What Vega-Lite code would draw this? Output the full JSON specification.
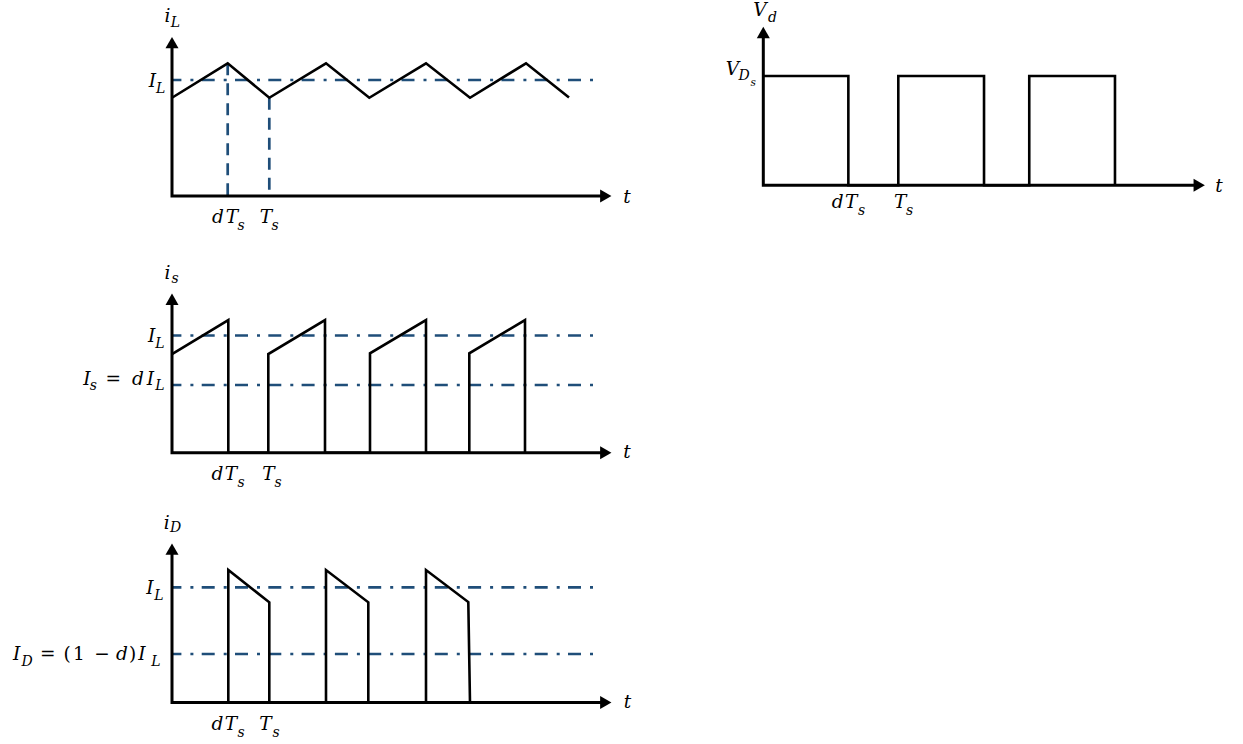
{
"$schema": "https://vega.github.io/schema/vega-lite/v6.json",
"padding": 0,
"background": "white",
"config": {"view": {"stroke": null}, "text": {"font": "DejaVu Serif", "color": "black", "align": "center", "baseline": "alphabetic"}},
"datasets": {
"iL": [
{"k":"axis","i":0,"t":0,"v":1.323},{"k":"axis","i":1,"t":0,"v":0},{"k":"axis","i":2,"t":4.338,"v":0},
{"k":"arrow","dir":"up","t":0,"v":1.323},{"k":"arrow","dir":"right","t":4.338,"v":0},
{"k":"wave","i":0,"t":0,"v":0.847},{"k":"wave","i":1,"t":0.557,"v":1.144},{"k":"wave","i":2,"t":0.973,"v":0.847},{"k":"wave","i":3,"t":1.54,"v":1.144},{"k":"wave","i":4,"t":1.973,"v":0.847},{"k":"wave","i":5,"t":2.54,"v":1.144},{"k":"wave","i":6,"t":2.98,"v":0.847},{"k":"wave","i":7,"t":3.54,"v":1.144},{"k":"wave","i":8,"t":3.97,"v":0.85},
{"k":"dd","t":0,"t2":4.25,"v":1},
{"k":"dash","t":0.557,"v":1.144,"v2":0},{"k":"dash","t":0.973,"v":0.847,"v2":0},
{"k":"main","s":"i","t":-0.045,"v":1.503},{"k":"main","s":"I","t":-0.197,"v":0.937},{"k":"main","s":"d","t":0.46,"v":-0.235},{"k":"main","s":"T","t":0.60,"v":-0.235},{"k":"main","s":"T","t":0.94,"v":-0.235},{"k":"main","s":"t","t":4.55,"v":-0.06},
{"k":"sub","s":"L","t":0.035,"v":1.461},{"k":"sub","s":"L","t":-0.113,"v":0.885},{"k":"sub","s":"s","t":0.69,"v":-0.297},{"k":"sub","s":"s","t":1.03,"v":-0.297}
],
"is": [
{"k":"axis","i":0,"t":0,"v":1.309},{"k":"axis","i":1,"t":0,"v":0},{"k":"axis","i":2,"t":4.338,"v":0},
{"k":"arrow","dir":"up","t":0,"v":1.309},{"k":"arrow","dir":"right","t":4.338,"v":0},
{"k":"wave","i":0,"t":0,"v":0.842},{"k":"wave","i":1,"t":0.563,"v":1.132},{"k":"wave","i":2,"t":0.563,"v":0},{"k":"wave","i":3,"t":0.963,"v":0},{"k":"wave","i":4,"t":0.963,"v":0.842},{"k":"wave","i":5,"t":1.53,"v":1.132},{"k":"wave","i":6,"t":1.53,"v":0},{"k":"wave","i":7,"t":1.98,"v":0},{"k":"wave","i":8,"t":1.98,"v":0.848},{"k":"wave","i":9,"t":2.54,"v":1.132},{"k":"wave","i":10,"t":2.54,"v":0},{"k":"wave","i":11,"t":2.973,"v":0},{"k":"wave","i":12,"t":2.973,"v":0.848},{"k":"wave","i":13,"t":3.53,"v":1.132},{"k":"wave","i":14,"t":3.53,"v":0},
{"k":"dd","t":0,"t2":4.24,"v":1},{"k":"dd","t":0,"t2":4.24,"v":0.578},
{"k":"main","s":"i","t":-0.045,"v":1.482},{"k":"main","s":"I","t":-0.203,"v":0.945},{"k":"main","s":"I","t":-0.85,"v":0.578},{"k":"main","s":"d","t":-0.34,"v":0.578},{"k":"main","s":"I","t":-0.215,"v":0.578},{"k":"main","s":"d","t":0.455,"v":-0.232},{"k":"main","s":"T","t":0.59,"v":-0.232},{"k":"main","s":"T","t":0.965,"v":-0.232},{"k":"main","s":"t","t":4.55,"v":-0.044},
{"k":"up","s":"=","t":-0.587,"v":0.578},
{"k":"sub","s":"s","t":0.03,"v":1.448},{"k":"sub","s":"L","t":-0.12,"v":0.893},{"k":"sub","s":"s","t":-0.787,"v":0.535},{"k":"sub","s":"L","t":-0.12,"v":0.535},{"k":"sub","s":"s","t":0.69,"v":-0.292},{"k":"sub","s":"s","t":1.06,"v":-0.292}
],
"iD": [
{"k":"axis","i":0,"t":0,"v":1.331},{"k":"axis","i":1,"t":0,"v":0},{"k":"axis","i":2,"t":4.338,"v":0},
{"k":"arrow","dir":"up","t":0,"v":1.331},{"k":"arrow","dir":"right","t":4.338,"v":0},
{"k":"wave","i":0,"t":0.563,"v":0},{"k":"wave","i":1,"t":0.563,"v":1.15},{"k":"wave","i":2,"t":0.973,"v":0.87},{"k":"wave","i":3,"t":0.973,"v":0},{"k":"wave","i":4,"t":1.54,"v":0},{"k":"wave","i":5,"t":1.54,"v":1.15},{"k":"wave","i":6,"t":1.963,"v":0.87},{"k":"wave","i":7,"t":1.963,"v":0},{"k":"wave","i":8,"t":2.54,"v":0},{"k":"wave","i":9,"t":2.54,"v":1.15},{"k":"wave","i":10,"t":2.963,"v":0.872},{"k":"wave","i":11,"t":2.98,"v":0},
{"k":"dd","t":0,"t2":4.24,"v":1},{"k":"dd","t":0,"t2":4.24,"v":0.421},
{"k":"main","s":"i","t":-0.053,"v":1.506},{"k":"main","s":"I","t":-0.22,"v":0.942},{"k":"main","s":"I","t":-1.553,"v":0.369},{"k":"main","s":"d","t":-0.5,"v":0.369},{"k":"main","s":"I","t":-0.30,"v":0.369},{"k":"main","s":"d","t":0.455,"v":-0.239},{"k":"main","s":"T","t":0.59,"v":-0.239},{"k":"main","s":"T","t":0.935,"v":-0.239},{"k":"main","s":"t","t":4.555,"v":-0.048},
{"k":"up","s":"=","t":-1.243,"v":0.369},{"k":"up","s":"(","t":-1.05,"v":0.369},{"k":"up","s":"1","t":-0.93,"v":0.369},{"k":"up","s":"−","t":-0.70,"v":0.369},{"k":"up","s":")","t":-0.395,"v":0.369},
{"k":"sub","s":"D","t":0.035,"v":1.476},{"k":"sub","s":"L","t":-0.13,"v":0.89},{"k":"sub","s":"D","t":-1.45,"v":0.321},{"k":"sub","s":"L","t":-0.16,"v":0.321},{"k":"sub","s":"s","t":0.69,"v":-0.299},{"k":"sub","s":"s","t":1.04,"v":-0.299}
],
"vd": [
{"k":"axis","i":0,"t":0,"v":1.398},{"k":"axis","i":1,"t":0,"v":0},{"k":"axis","i":2,"t":3.229,"v":0},
{"k":"arrow","dir":"up","t":0,"v":1.398},{"k":"arrow","dir":"right","t":3.229,"v":0},
{"k":"wave","i":0,"t":0,"v":1},{"k":"wave","i":1,"t":0.63,"v":1},{"k":"wave","i":2,"t":0.63,"v":0},{"k":"wave","i":3,"t":1.0,"v":0},{"k":"wave","i":4,"t":1.0,"v":1},{"k":"wave","i":5,"t":1.635,"v":1},{"k":"wave","i":6,"t":1.635,"v":0},{"k":"wave","i":7,"t":1.97,"v":0},{"k":"wave","i":8,"t":1.97,"v":1},{"k":"wave","i":9,"t":2.605,"v":1},{"k":"wave","i":10,"t":2.605,"v":0},
{"k":"main","s":"V","t":-0.024,"v":1.548},{"k":"main","s":"V","t":-0.228,"v":1.009},{"k":"main","s":"d","t":0.55,"v":-0.21},{"k":"main","s":"T","t":0.65,"v":-0.21},{"k":"main","s":"T","t":1.013,"v":-0.21},{"k":"main","s":"t","t":3.376,"v":-0.059},
{"k":"sub","s":"d","t":0.068,"v":1.494},{"k":"sub","s":"D","t":-0.143,"v":0.963},{"k":"sub","s":"s","t":0.728,"v":-0.272},{"k":"sub","s":"s","t":1.084,"v":-0.272},
{"k":"subsub","s":"s","t":-0.074,"v":0.909}
]
},
"hconcat": [
{
"vconcat": [
{
"width": 640, "height": 250,
"data": {"name": "iL"},
"encoding": {
"x": {"field": "t", "type": "quantitative", "scale": {"domain": [-1.72, 4.68], "nice": false, "zero": false}, "axis": null},
"y": {"field": "v", "type": "quantitative", "scale": {"domain": [-0.4655, 1.6897], "nice": false, "zero": false}, "axis": null}
},
"layer": [
{"transform": [{"filter": "datum.k === 'dd'"}], "mark": {"type": "rule", "color": "#1f4e79", "strokeWidth": 2.7, "strokeDash": [13, 9, 3, 8.3], "strokeDashOffset": 3.6}, "encoding": {"x2": {"field": "t2"}}},
{"transform": [{"filter": "datum.k === 'dash'"}], "mark": {"type": "rule", "color": "#1f4e79", "strokeWidth": 2.7, "strokeDash": [12, 8]}, "encoding": {"y2": {"field": "v2"}}},
{"transform": [{"filter": "datum.k === 'wave'"}], "mark": {"type": "line", "color": "black", "strokeWidth": 2.6, "strokeJoin": "miter"}, "encoding": {"order": {"field": "i"}}},
{"transform": [{"filter": "datum.k === 'axis'"}], "mark": {"type": "line", "color": "black", "strokeWidth": 3, "strokeJoin": "miter", "strokeCap": "butt"}, "encoding": {"order": {"field": "i"}}},
{"transform": [{"filter": "datum.k === 'arrow'"}], "mark": {"type": "point", "filled": true, "color": "black", "opacity": 1, "size": 170, "strokeWidth": 0}, "encoding": {"shape": {"field": "dir", "type": "nominal", "scale": {"domain": ["up", "right"], "range": ["triangle-up", "triangle-right"]}, "legend": null}}},
{"transform": [{"filter": "datum.k === 'main'"}], "mark": {"type": "text", "fontStyle": "italic", "fontSize": 18.5}, "encoding": {"text": {"field": "s"}}},
{"transform": [{"filter": "datum.k === 'sub'"}], "mark": {"type": "text", "fontStyle": "italic", "fontSize": 14}, "encoding": {"text": {"field": "s"}}}
]
},
{
"width": 640, "height": 250,
"data": {"name": "is"},
"encoding": {
"x": {"field": "t", "type": "quantitative", "scale": {"domain": [-1.72, 4.68], "nice": false, "zero": false}, "axis": null},
"y": {"field": "v", "type": "quantitative", "scale": {"domain": [-0.4024, 1.7289], "nice": false, "zero": false}, "axis": null}
},
"layer": [
{"transform": [{"filter": "datum.k === 'dd'"}], "mark": {"type": "rule", "color": "#1f4e79", "strokeWidth": 2.7, "strokeDash": [13, 9, 3, 8.3], "strokeDashOffset": 3.6}, "encoding": {"x2": {"field": "t2"}}},
{"transform": [{"filter": "datum.k === 'wave'"}], "mark": {"type": "line", "color": "black", "strokeWidth": 2.6, "strokeJoin": "miter"}, "encoding": {"order": {"field": "i"}}},
{"transform": [{"filter": "datum.k === 'axis'"}], "mark": {"type": "line", "color": "black", "strokeWidth": 3, "strokeJoin": "miter", "strokeCap": "butt"}, "encoding": {"order": {"field": "i"}}},
{"transform": [{"filter": "datum.k === 'arrow'"}], "mark": {"type": "point", "filled": true, "color": "black", "opacity": 1, "size": 170, "strokeWidth": 0}, "encoding": {"shape": {"field": "dir", "type": "nominal", "scale": {"domain": ["up", "right"], "range": ["triangle-up", "triangle-right"]}, "legend": null}}},
{"transform": [{"filter": "datum.k === 'main'"}], "mark": {"type": "text", "fontStyle": "italic", "fontSize": 18.5}, "encoding": {"text": {"field": "s"}}},
{"transform": [{"filter": "datum.k === 'up'"}], "mark": {"type": "text", "fontSize": 18.5}, "encoding": {"text": {"field": "s"}}},
{"transform": [{"filter": "datum.k === 'sub'"}], "mark": {"type": "text", "fontStyle": "italic", "fontSize": 14}, "encoding": {"text": {"field": "s"}}}
]
},
{
"width": 640, "height": 244,
"data": {"name": "iD"},
"encoding": {
"x": {"field": "t", "type": "quantitative", "scale": {"domain": [-1.72, 4.68], "nice": false, "zero": false}, "axis": null},
"y": {"field": "v", "type": "quantitative", "scale": {"domain": [-0.3602, 1.7578], "nice": false, "zero": false}, "axis": null}
},
"layer": [
{"transform": [{"filter": "datum.k === 'dd'"}], "mark": {"type": "rule", "color": "#1f4e79", "strokeWidth": 2.7, "strokeDash": [13, 9, 3, 8.3], "strokeDashOffset": 3.6}, "encoding": {"x2": {"field": "t2"}}},
{"transform": [{"filter": "datum.k === 'wave'"}], "mark": {"type": "line", "color": "black", "strokeWidth": 2.6, "strokeJoin": "miter"}, "encoding": {"order": {"field": "i"}}},
{"transform": [{"filter": "datum.k === 'axis'"}], "mark": {"type": "line", "color": "black", "strokeWidth": 3, "strokeJoin": "miter", "strokeCap": "butt"}, "encoding": {"order": {"field": "i"}}},
{"transform": [{"filter": "datum.k === 'arrow'"}], "mark": {"type": "point", "filled": true, "color": "black", "opacity": 1, "size": 170, "strokeWidth": 0}, "encoding": {"shape": {"field": "dir", "type": "nominal", "scale": {"domain": ["up", "right"], "range": ["triangle-up", "triangle-right"]}, "legend": null}}},
{"transform": [{"filter": "datum.k === 'main'"}], "mark": {"type": "text", "fontStyle": "italic", "fontSize": 18.5}, "encoding": {"text": {"field": "s"}}},
{"transform": [{"filter": "datum.k === 'up'"}], "mark": {"type": "text", "fontSize": 18.5}, "encoding": {"text": {"field": "s"}}},
{"transform": [{"filter": "datum.k === 'sub'"}], "mark": {"type": "text", "fontStyle": "italic", "fontSize": 14}, "encoding": {"text": {"field": "s"}}}
]
}
],
"spacing": 0,
"bounds": "flush",
"resolve": {"scale": {"x": "independent", "y": "independent"}}
},
{
"width": 543, "height": 250,
"data": {"name": "vd"},
"encoding": {
"x": {"field": "t", "type": "quantitative", "scale": {"domain": [-0.4689, 3.5533], "nice": false, "zero": false}, "axis": null},
"y": {"field": "v", "type": "quantitative", "scale": {"domain": [-0.592, 1.6953], "nice": false, "zero": false}, "axis": null}
},
"layer": [
{"transform": [{"filter": "datum.k === 'wave'"}], "mark": {"type": "line", "color": "black", "strokeWidth": 2.6, "strokeJoin": "miter"}, "encoding": {"order": {"field": "i"}}},
{"transform": [{"filter": "datum.k === 'axis'"}], "mark": {"type": "line", "color": "black", "strokeWidth": 3, "strokeJoin": "miter", "strokeCap": "butt"}, "encoding": {"order": {"field": "i"}}},
{"transform": [{"filter": "datum.k === 'arrow'"}], "mark": {"type": "point", "filled": true, "color": "black", "opacity": 1, "size": 170, "strokeWidth": 0}, "encoding": {"shape": {"field": "dir", "type": "nominal", "scale": {"domain": ["up", "right"], "range": ["triangle-up", "triangle-right"]}, "legend": null}}},
{"transform": [{"filter": "datum.k === 'main'"}], "mark": {"type": "text", "fontStyle": "italic", "fontSize": 18.5}, "encoding": {"text": {"field": "s"}}},
{"transform": [{"filter": "datum.k === 'sub'"}], "mark": {"type": "text", "fontStyle": "italic", "fontSize": 14}, "encoding": {"text": {"field": "s"}}},
{"transform": [{"filter": "datum.k === 'subsub'"}], "mark": {"type": "text", "fontStyle": "italic", "fontSize": 10.5}, "encoding": {"text": {"field": "s"}}}
]
}
],
"spacing": 60,
"resolve": {"scale": {"x": "independent", "y": "independent"}}
}
